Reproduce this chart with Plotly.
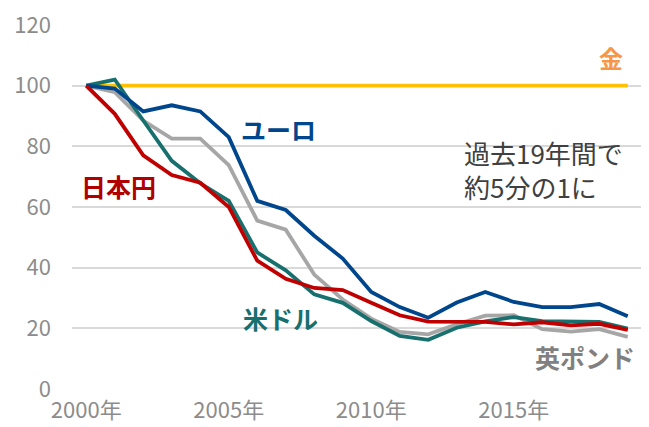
import plotly.graph_objects as go

years = list(range(2000, 2020))
tick_vals = [2000, 2005, 2010, 2015]
tick_text = ["2000年", "2005年", "2010年", "2015年"]

gold = [100] * 20
euro = [100, 99, 91.5, 93.5, 91.5, 83, 62, 59, 50.5, 43, 32, 27, 23.5, 28.5, 32, 28.7, 27, 27, 28, 24]
yen = [100, 90.7, 77, 70.5, 68, 60, 42.3, 36.3, 33.3, 32.6, 28.4, 24.3, 22.2, 22.1, 22.1, 21.3, 22, 21, 21.5, 19.5]
usd = [100, 102, 88.5, 75.2, 67.8, 62, 45, 39.1, 31.2, 28.4, 22.4, 17.5, 16.2, 20.2, 22.3, 23.7, 22.4, 22.1, 22.1, 19.9]
gbp = [100, 97.8, 88.5, 82.5, 82.5, 73.8, 55.5, 52.5, 37.7, 29.5, 23.2, 18.8, 18, 21.3, 24.2, 24.3, 19.7, 18.9, 19.7, 17.2]

FONT = "Noto Sans CJK JP"
fig = go.Figure()

series = [
    ("金", gold, "#FFC000"),
    ("英ポンド", gbp, "#A6A6A6"),
    ("米ドル", usd, "#17706E"),
    ("ユーロ", euro, "#00468C"),
    ("日本円", yen, "#C00000"),
]
for name, vals, col in series:
    fig.add_trace(go.Scatter(x=years, y=vals, mode="lines", name=name,
                             line=dict(color=col, width=3.8), showlegend=False))

labels = [
    ("金", 2018.4, 109.2, "#F79646", 24),
    ("ユーロ", 2006.75, 85.8, "#00468C", 25),
    ("日本円", 2001.13, 66.8, "#B00000", 25),
    ("米ドル", 2006.8, 23.5, "#17706E", 25),
    ("英ポンド", 2017.5, 10.7, "#808080", 25),
]
for txt, xx, yy, col, sz in labels:
    fig.add_annotation(x=xx, y=yy, text="<b>%s</b>" % txt, showarrow=False,
                       font=dict(family=FONT, size=sz, color=col))

fig.add_annotation(x=2016.05, y=72.4, text="過去19年間で<br>約5分の1に", showarrow=False,
                   align="left", xanchor="center",
                   font=dict(family=FONT, size=26, color="#404040"))

fig.update_layout(
    width=641, height=419,
    margin=dict(l=64, r=7, t=16, b=38, autoexpand=False),
    paper_bgcolor="white", plot_bgcolor="white",
    font=dict(family=FONT),
)
fig.update_xaxes(range=[1999.5, 2019.5], tickvals=tick_vals, ticktext=tick_text,
                 showgrid=False, zeroline=False, showline=False, automargin=False,
                 tickfont=dict(size=22, color="#8C8C8C"), ticks="", ticklabelstandoff=6,
                 ticklabeloverflow="allow")
fig.update_yaxes(range=[0, 120.3], tickvals=[0, 20, 40, 60, 80, 100, 120],
                 showgrid=True, gridcolor="#D9D9D9", gridwidth=1.5,
                 zeroline=False, showline=False, automargin=False,
                 tickfont=dict(size=22, color="#8C8C8C"), ticks="", ticklabelstandoff=20,
                 ticklabeloverflow="allow")

fig.write_html("out.html")
